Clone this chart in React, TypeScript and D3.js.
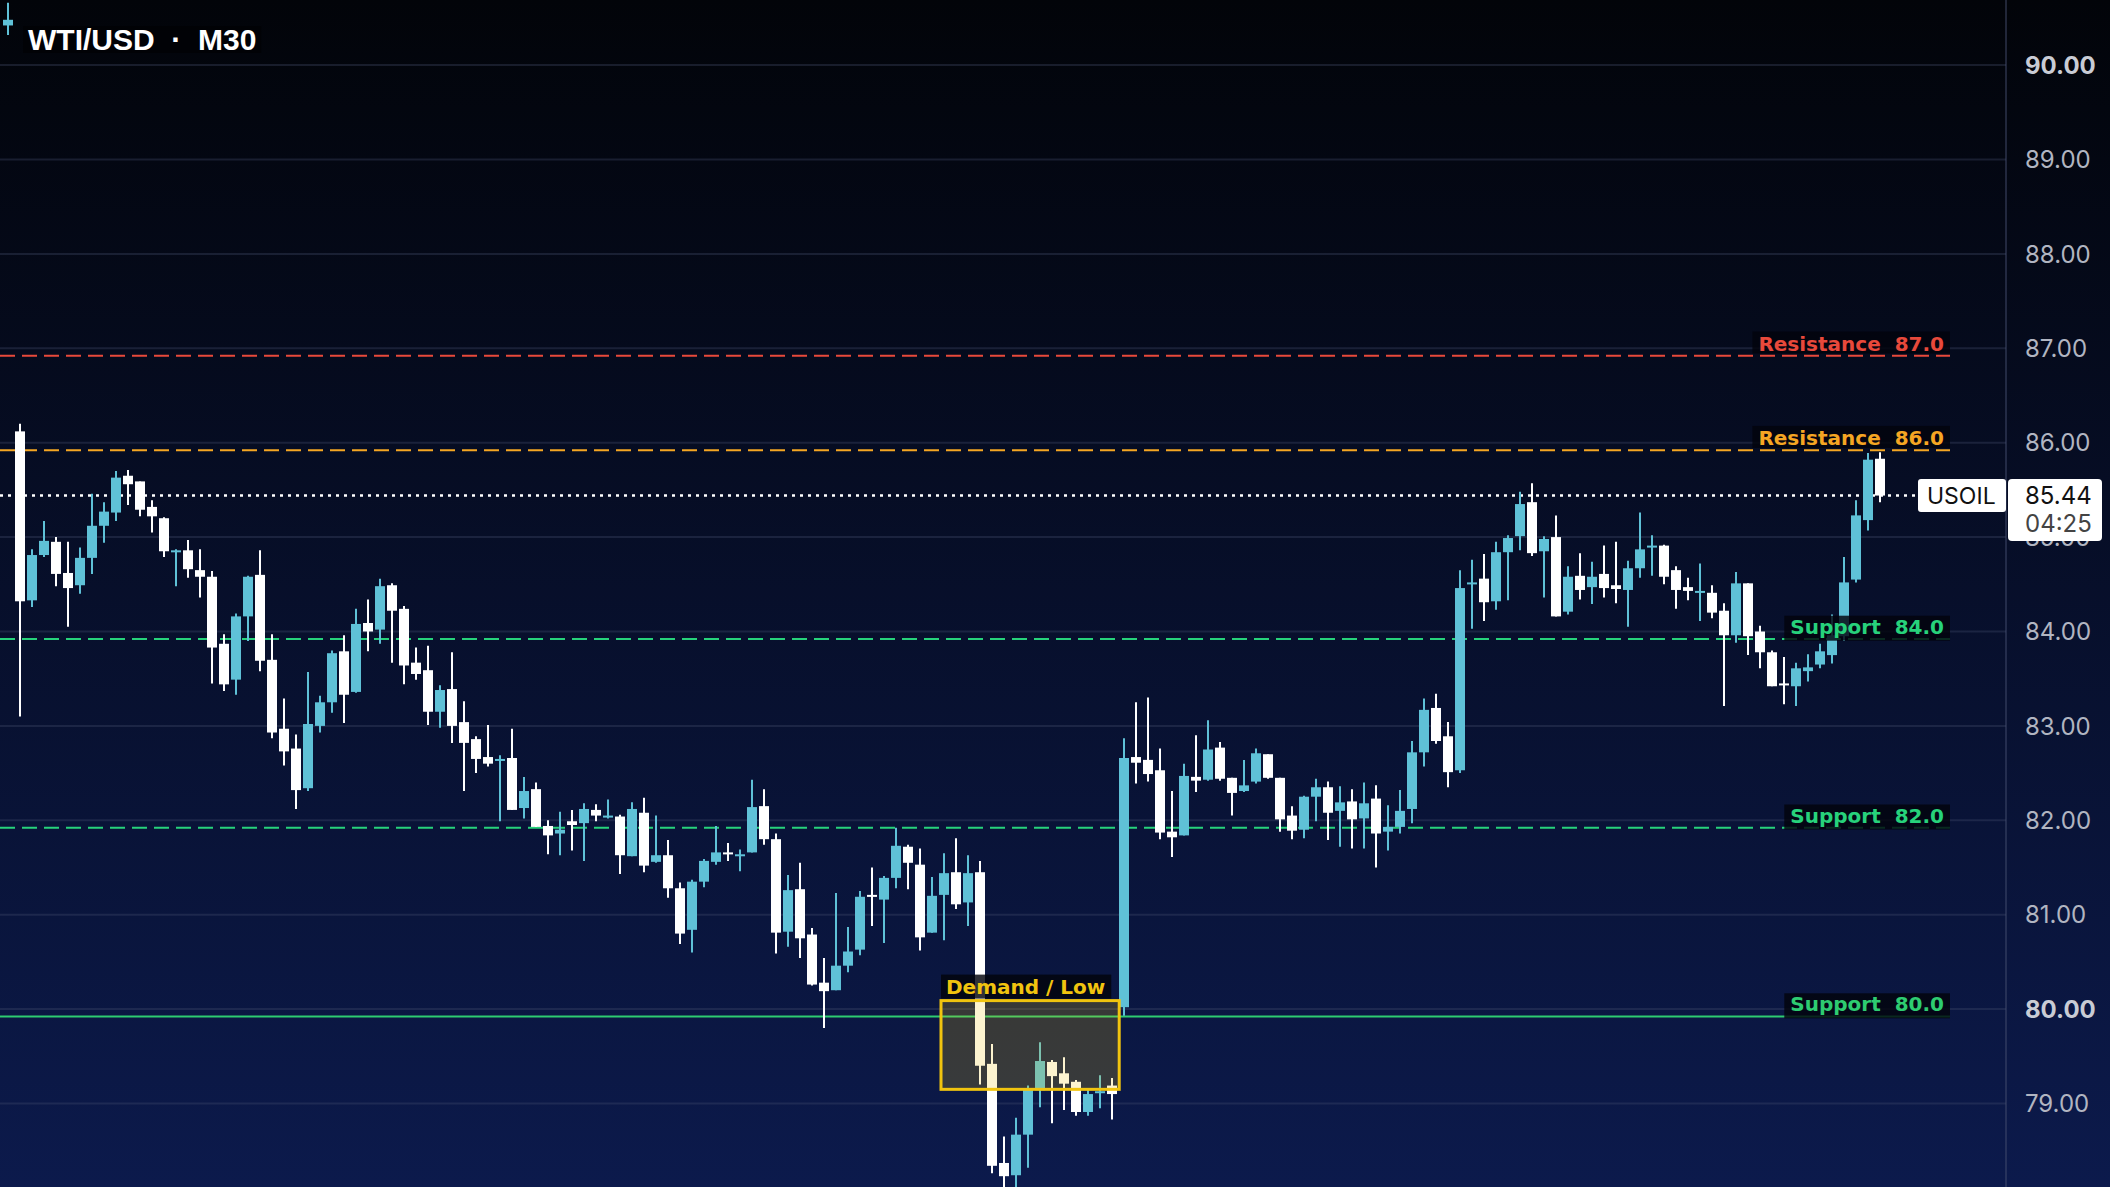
import React, { useEffect } from 'react';
import * as d3 from 'd3';

// chart size = browser window
const W = 2110;
const H = 1187;

const title = 'WTI/USD  ·  M30';
const symbol = 'USOIL';
const lastPrice = 85.44;
const lastTimer = '04:25';

// M30 candles, oldest first (the first one sits at the very top-left)
const opens = [
  90.42, 86.12, 84.33, 84.81, 84.95, 84.62, 84.49, 84.78, 85.12, 85.26,
  85.65, 85.59, 85.32, 85.2, 84.85, 84.86, 84.65, 84.58, 83.87, 83.49,
  84.16, 84.6, 83.7, 82.97, 82.76, 82.34, 83.0, 83.25, 83.79, 83.36,
  84.09, 84.02, 84.49, 84.24, 83.67, 83.59, 83.15, 83.39, 83.04, 82.86,
  82.67, 82.63, 82.66, 82.13, 82.33, 81.94, 81.86, 81.99, 81.97, 82.11,
  82.03, 82.04, 81.62, 82.08, 81.56, 81.63, 81.28, 80.84, 81.35, 81.56,
  81.66, 81.62, 81.66, 82.15, 81.8, 80.82, 81.27, 80.79, 80.28, 80.2,
  80.46, 80.63, 81.21, 81.16, 81.39, 81.72, 81.53, 80.81, 81.21, 81.45,
  81.13, 81.45, 79.42, 78.37, 78.24, 78.67, 79.14, 79.44, 79.32, 79.23,
  78.91, 79.12, 79.19, 80.02, 82.67, 82.64, 82.53, 81.88, 81.84, 82.46,
  82.43, 82.77, 82.45, 82.31, 82.41, 82.7, 82.45, 82.05, 81.9, 82.25,
  82.35, 82.1, 82.2, 82.02, 82.23, 81.88, 81.93, 82.12, 82.72, 83.19,
  82.89, 82.53, 84.5, 84.56, 84.32, 84.84, 85.01, 85.37, 84.85, 85.0,
  84.21, 84.59, 84.47, 84.61, 84.49, 84.44, 84.67, 84.9, 84.91, 84.65,
  84.47, 84.41, 84.41, 84.22, 83.96, 84.51, 84.0, 83.78, 83.45, 83.42,
  83.58, 83.65, 83.75, 83.95, 84.55, 85.18, 85.83,
];
const highs = [
  90.66, 86.2, 84.87, 85.17, 85.0, 84.95, 84.89, 85.46, 85.37, 85.7,
  85.71, 85.59, 85.39, 85.21, 84.87, 84.97, 84.87, 84.64, 83.97, 84.19,
  84.59, 84.86, 83.97, 83.29, 82.91, 83.57, 83.32, 83.8, 83.96, 84.24,
  84.34, 84.56, 84.51, 84.27, 83.83, 83.85, 83.43, 83.78, 83.26, 82.89,
  83.01, 82.69, 82.97, 82.46, 82.4, 82.0, 82.09, 82.11, 82.18, 82.17,
  82.22, 82.06, 82.19, 82.24, 82.05, 81.79, 81.34, 81.37, 81.59, 81.94,
  81.76, 81.69, 82.43, 82.33, 81.86, 81.42, 81.55, 80.86, 80.54, 81.23,
  80.87, 81.25, 81.5, 81.41, 81.92, 81.74, 81.7, 81.4, 81.65, 81.81,
  81.63, 81.57, 79.63, 78.65, 78.85, 79.19, 79.65, 79.46, 79.49, 79.25,
  79.14, 79.3, 79.27, 82.87, 83.25, 83.3, 82.76, 82.31, 82.6, 82.9,
  83.06, 82.83, 82.45, 82.64, 82.76, 82.7, 82.45, 82.15, 82.26, 82.44,
  82.41, 82.36, 82.33, 82.4, 82.37, 82.16, 82.32, 82.84, 83.29, 83.34,
  83.04, 84.65, 84.76, 84.82, 84.95, 85.02, 85.48, 85.57, 85.01, 85.23,
  84.69, 84.83, 84.74, 84.91, 84.95, 84.75, 85.26, 85.02, 84.92, 84.69,
  84.57, 84.72, 84.49, 84.3, 84.63, 84.51, 84.06, 83.8, 83.73, 83.67,
  83.76, 83.87, 84.18, 84.79, 85.39, 85.89, 85.9,
];
const lows = [
  90.32, 83.1, 84.26, 84.79, 84.48, 84.05, 84.4, 84.61, 84.94, 85.17,
  85.34, 85.22, 85.05, 84.79, 84.48, 84.57, 84.36, 83.45, 83.37, 83.33,
  83.9, 83.58, 82.87, 82.58, 82.12, 82.31, 82.93, 83.14, 83.03, 83.35,
  83.79, 83.87, 83.67, 83.44, 83.49, 83.01, 82.98, 82.82, 82.31, 82.5,
  82.57, 81.99, 82.11, 82.02, 81.93, 81.64, 81.63, 81.68, 81.57, 81.99,
  82.02, 81.43, 81.62, 81.45, 81.55, 81.18, 80.69, 80.6, 81.29, 81.53,
  81.57, 81.46, 81.66, 81.74, 80.59, 80.66, 80.54, 80.25, 79.8, 80.2,
  80.39, 80.57, 80.88, 80.7, 81.28, 81.27, 80.62, 80.81, 80.73, 81.06,
  80.88, 79.2, 78.26, 78.05, 78.05, 78.32, 78.96, 78.79, 78.93, 78.87,
  78.87, 78.95, 78.83, 79.93, 82.39, 82.41, 81.8, 81.61, 81.84, 82.3,
  82.42, 82.42, 82.05, 82.3, 82.39, 82.44, 81.88, 81.8, 81.81, 81.99,
  81.79, 81.72, 81.7, 81.7, 81.5, 81.68, 81.86, 81.97, 82.57, 82.81,
  82.35, 82.5, 84.03, 84.11, 84.23, 84.33, 84.86, 84.8, 84.36, 84.16,
  84.18, 84.34, 84.29, 84.36, 84.3, 84.05, 84.57, 84.59, 84.5, 84.24,
  84.33, 84.11, 84.14, 83.21, 83.88, 83.75, 83.61, 83.42, 83.23, 83.21,
  83.47, 83.61, 83.66, 83.9, 84.52, 85.07, 85.37,
];
const closes = [
  90.48, 84.32, 84.81, 84.96, 84.61, 84.46, 84.78, 85.12, 85.27, 85.63,
  85.56, 85.29, 85.22, 84.85, 84.86, 84.66, 84.58, 83.83, 83.44, 84.16,
  84.58, 83.69, 82.93, 82.73, 82.32, 83.02, 83.25, 83.77, 83.33, 84.08,
  84.0, 84.48, 84.22, 83.64, 83.55, 83.15, 83.38, 83.0, 82.82, 82.65,
  82.6, 82.65, 82.11, 82.31, 81.93, 81.84, 81.9, 81.95, 82.12, 82.05,
  82.05, 81.63, 82.12, 81.52, 81.63, 81.28, 80.8, 81.35, 81.57, 81.66,
  81.65, 81.64, 82.14, 81.8, 80.81, 81.26, 80.75, 80.26, 80.19, 80.46,
  80.61, 81.19, 81.19, 81.39, 81.73, 81.55, 80.76, 81.2, 81.44, 81.11,
  81.44, 79.4, 78.34, 78.23, 78.67, 79.16, 79.45, 79.29, 79.21, 78.91,
  79.1, 79.13, 79.1, 82.66, 82.61, 82.49, 81.87, 81.82, 82.47, 82.42,
  82.75, 82.44, 82.29, 82.37, 82.71, 82.45, 82.01, 81.89, 82.25, 82.35,
  82.08, 82.19, 82.01, 82.18, 81.86, 81.93, 82.1, 82.72, 83.17, 82.84,
  82.51, 84.46, 84.52, 84.31, 84.84, 84.99, 85.35, 84.83, 84.98, 84.16,
  84.58, 84.44, 84.58, 84.46, 84.45, 84.67, 84.87, 84.91, 84.58, 84.44,
  84.43, 84.43, 84.2, 83.96, 84.51, 83.95, 83.78, 83.42, 83.43, 83.61,
  83.62, 83.79, 83.96, 84.52, 85.23, 85.82, 85.44,
];

// right price scale
const priceTicks = [79, 80, 81, 82, 83, 84, 85, 86, 87, 88, 89, 90];

// horizontal levels
const levelValues = [87, 86, 84, 82, 80];
const levelLabels = ['Resistance  87.0', 'Resistance  86.0', 'Support  84.0', 'Support  82.0', 'Support  80.0'];

// demand zone: price range and candle span (in candle index units)
const demandPrices = [79.15, 80.09];
const demandSpan = [77.75, 92.6];
const demandLabel = 'Demand / Low';

const TEAL = '#5fc1d7';
const LEVEL_STYLE = [
  { color: '#e8493b', dash: '15 7' },
  { color: '#f5a623', dash: '15 7' },
  { color: '#27d27b', dash: '15 7' },
  { color: '#27d27b', dash: '15 7' },
  { color: '#2ecc71', dash: '' },
];
const LABEL_FONT = '"DejaVu Sans", Verdana, sans-serif';
const AXIS_FONT = 'Inter, Roboto, "Noto Sans", sans-serif';

let measureCtx: CanvasRenderingContext2D | null = null;
function measure(text: string, font: string) {
  if (!measureCtx) measureCtx = document.createElement('canvas').getContext('2d');
  const ctx = measureCtx as CanvasRenderingContext2D;
  ctx.font = font;
  const m = ctx.measureText(text);
  return { w: m.width, asc: m.actualBoundingBoxAscent, desc: m.actualBoundingBoxDescent };
}

export default function App() {
  useEffect(() => {
    document.body.style.margin = '0';
    document.body.style.overflow = 'hidden';
  }, []);

  const plotRight = 2006;
  const lineEnd = 1950;

  const x = d3.scaleLinear().domain([0, opens.length - 1]).range([8, 1880]);
  const y = d3.scaleLinear().domain([79, 90]).range([1103.5, 65.1]);

  const levelNudge = 7.5; // level lines sit a little under their grid line
  const bodyW = 10;

  const labelFont = `bold 20px ${LABEL_FONT}`;
  const titleM = measure(title, 'bold 30px "Liberation Sans", Arial, sans-serif');

  const dx0 = x(demandSpan[0]);
  const dx1 = x(demandSpan[1]);
  const dyTop = y(demandPrices[1]);
  const dyBot = y(demandPrices[0]);
  const demM = measure(demandLabel, labelFont);
  const demBase = dyTop - 7;

  const lastY = y(lastPrice);

  return (
    <svg width={W} height={H} style={{ display: 'block', position: 'absolute', left: 0, top: 0 }}>
      <defs>
        <linearGradient id="bg" x1="0" y1="0" x2="0" y2="1">
          <stop offset="0%" stopColor="#020409" />
          <stop offset="100%" stopColor="#0c1a4c" />
        </linearGradient>
      </defs>
      <rect x={0} y={0} width={W} height={H} fill="url(#bg)" />

      {/* grid */}
      {priceTicks.map((t) => (
        <line key={t} x1={0} x2={plotRight} y1={y(t)} y2={y(t)} stroke="rgba(70,80,112,0.32)" strokeWidth={2} />
      ))}
      <line x1={plotRight} x2={plotRight} y1={0} y2={H} stroke="rgba(70,80,112,0.45)" strokeWidth={2} />

      {/* level lines */}
      {levelValues.map((v, i) => (
        <line
          key={v}
          x1={0}
          x2={lineEnd}
          y1={y(v) + levelNudge}
          y2={y(v) + levelNudge}
          stroke={LEVEL_STYLE[i].color}
          strokeWidth={2}
          strokeDasharray={LEVEL_STYLE[i].dash || undefined}
        />
      ))}

      {/* last price dotted line */}
      <line x1={0} x2={1916} y1={lastY} y2={lastY} stroke="#ffffff" strokeWidth={2.5} strokeDasharray="3 5" />

      {/* candles */}
      {opens.map((o, i) => {
        const c = closes[i];
        const col = c >= o ? TEAL : '#ffffff';
        const cx = x(i);
        const top = y(Math.max(o, c));
        const h = Math.max(2, y(Math.min(o, c)) - top);
        return (
          <g key={i}>
            <line x1={cx} x2={cx} y1={y(highs[i])} y2={y(lows[i])} stroke={col} strokeWidth={2} />
            <rect x={cx - bodyW / 2} y={top} width={bodyW} height={h} fill={col} />
          </g>
        );
      })}

      {/* demand zone */}
      <rect x={dx0} y={dyTop} width={dx1 - dx0} height={dyBot - dyTop} fill="rgba(241,196,15,0.2)" stroke="#f1c40f" strokeWidth={3} />
      <rect x={dx0} y={demBase - demM.asc - 4} width={demM.w + 11} height={demM.asc + demM.desc + 7} fill="rgba(2,4,12,0.82)" />
      <text x={dx0 + 5} y={demBase} fill="#f1c40f" fontFamily={LABEL_FONT} fontWeight={700} fontSize={20} style={{ whiteSpace: 'pre' }}>
        {demandLabel}
      </text>

      {/* level labels */}
      {levelValues.map((v, i) => {
        const base = y(v) + levelNudge - 5.3;
        const m = measure(levelLabels[i], labelFont);
        const tx = lineEnd - 6;
        return (
          <g key={'l' + v}>
            <rect x={tx - m.w - 6} y={base - m.asc - 4} width={m.w + 12} height={m.asc + m.desc + 7} fill="rgba(2,4,12,0.82)" />
            <text x={tx} y={base} textAnchor="end" fill={LEVEL_STYLE[i].color} fontFamily={LABEL_FONT} fontWeight={700} fontSize={20} xmlSpace="preserve" style={{ whiteSpace: 'pre' }}>
              {levelLabels[i]}
            </text>
          </g>
        );
      })}

      {/* axis labels */}
      {priceTicks.map((t) => {
        const round = t % 10 === 0;
        return (
          <text key={'t' + t} x={2025} y={y(t)} dy="0.36em" fill={round ? '#c9ccd5' : '#b1b5c1'} fontFamily={AXIS_FONT} fontWeight={round ? 700 : 400} fontSize={24}>
            {t.toFixed(2)}
          </text>
        );
      })}

      {/* last price tags */}
      <rect x={1918} y={lastY - 16.6} width={88} height={33} rx={3} fill="#ffffff" />
      <text x={1927} y={lastY + 8} fill="#111111" fontFamily={AXIS_FONT} fontSize={23}>
        {symbol}
      </text>
      <rect x={2008} y={lastY - 16.6} width={94} height={62} rx={4} fill="#ffffff" />
      <text x={2025} y={lastY + 8.5} fill="#111111" fontFamily={AXIS_FONT} fontSize={24}>
        {lastPrice.toFixed(2)}
      </text>
      <text x={2025} y={lastY + 36} fill="#444444" fontFamily={AXIS_FONT} fontSize={24}>
        {lastTimer}
      </text>

      {/* title */}
      <rect x={23} y={26} width={titleM.w + 10} height={27} fill="rgba(0,0,0,0.45)" />
      <text x={28} y={50} fill="#ffffff" fontFamily='"Liberation Sans", Arial, sans-serif' fontWeight={700} fontSize={30} style={{ whiteSpace: 'pre' }}>
        {title}
      </text>
    </svg>
  );
}
